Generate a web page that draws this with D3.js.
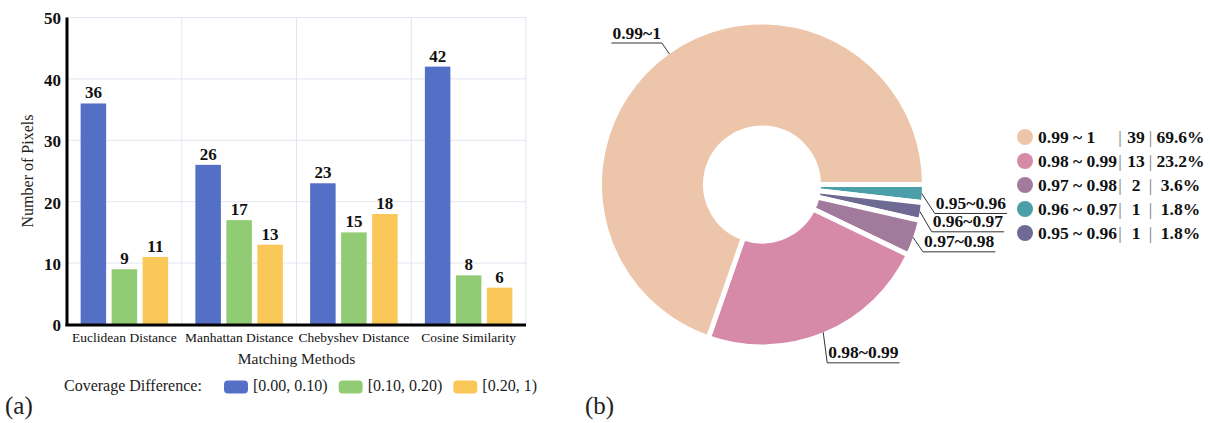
<!DOCTYPE html>
<html>
<head>
<meta charset="utf-8">
<script src="https://cdn.jsdelivr.net/npm/d3@7"></script>
<style>
  html, body { margin: 0; padding: 0; background: #fff; }
  svg { display: block; font-family: "Liberation Serif", "Times New Roman", serif; }
</style>
</head>
<body>
<svg id="fig" width="1210" height="423"></svg>
<script>
// ---- (a) pixel counts per matching method ----
const methods = ["Euclidean Distance", "Manhattan Distance", "Chebyshev Distance", "Cosine Similarity"];
const coverageBins = ["[0.00, 0.10)", "[0.10, 0.20)", "[0.20, 1)"];
const countsLow = [36, 26, 23, 42];
const countsMid = [9, 17, 15, 8];
const countsHigh = [11, 13, 18, 6];
const yTickValues = [0, 10, 20, 30, 40, 50];
const binColors = ["#5470c6", "#91cc75", "#fac858"];

// ---- (b) similarity distribution ----
const simRanges = ["0.99 ~ 1", "0.98 ~ 0.99", "0.97 ~ 0.98", "0.96 ~ 0.97", "0.95 ~ 0.96"];
const simCounts = [39, 13, 2, 1, 1];
const simLegendColors = ["#edc5aa", "#d78aa8", "#a27b9c", "#4b9fa8", "#6f6a94"];
// slices run clockwise from three o'clock
const sliceLabels = ["0.95~0.96", "0.96~0.97", "0.97~0.98", "0.98~0.99", "0.99~1"];
const sliceCounts = [1, 1, 2, 13, 39];
const sliceColors = ["#4b9fa8", "#6f6a94", "#a27b9c", "#d78aa8", "#edc5aa"];
// first leg of each leader line, relative to the slice's outer midpoint
const leaderLegs = [[13, 20], [12, 20.5], [10, 14.5], [4, 30.5], [-7.5, -11]];

const svg = d3.select("#fig");

// ================= bar chart =================
const plot = { left: 67, right: 526, top: 17.5, bottom: 324.5 };
const x0 = d3.scaleBand().domain(methods).range([plot.left, plot.right]).padding(0);
const bw = x0.bandwidth();
const x1 = d3.scaleBand().domain(coverageBins)
  .range([bw / 2 - 43.75, bw / 2 + 43.75]).paddingInner(0.177).paddingOuter(0);
const y = d3.scaleLinear().domain([0, 50]).range([plot.bottom, plot.top]);

const gBar = svg.append("g");

// grid
gBar.append("g").selectAll("line.h").data(yTickValues.filter(d => d > 0)).join("line")
  .attr("x1", plot.left).attr("x2", plot.right)
  .attr("y1", d => y(d)).attr("y2", d => y(d))
  .attr("stroke", "#e0e6f1").attr("stroke-width", 1);
gBar.append("g").selectAll("line.v").data(methods.slice(1).concat(["end"])).join("line")
  .attr("x1", d => d === "end" ? plot.right : x0(d))
  .attr("x2", d => d === "end" ? plot.right : x0(d))
  .attr("y1", plot.top).attr("y2", plot.bottom)
  .attr("stroke", "#e0e6f1").attr("stroke-width", 1);

// bars
const rows = methods.map((m, i) => ({ method: m, values: [countsLow[i], countsMid[i], countsHigh[i]] }));
const groups = gBar.append("g").selectAll("g").data(rows).join("g")
  .attr("transform", d => `translate(${x0(d.method)},0)`);
groups.selectAll("rect").data(d => d.values.map((v, j) => ({ bin: coverageBins[j], v, j }))).join("rect")
  .attr("x", d => x1(d.bin)).attr("width", x1.bandwidth())
  .attr("y", d => y(d.v)).attr("height", d => y(0) - y(d.v))
  .attr("fill", d => binColors[d.j]);
groups.selectAll("text").data(d => d.values.map((v, j) => ({ bin: coverageBins[j], v }))).join("text")
  .attr("x", d => x1(d.bin) + x1.bandwidth() / 2)
  .attr("y", d => y(d.v) - 5)
  .attr("text-anchor", "middle").attr("font-weight", "bold").attr("font-size", 17)
  .attr("fill", "#111").text(d => d.v);

// axes
const yAxis = d3.axisLeft(y).tickValues(yTickValues).tickSize(0).tickPadding(6);
const gy = gBar.append("g").attr("transform", `translate(${plot.left},0)`).call(yAxis);
gy.select(".domain").remove();
gy.selectAll("text").attr("font-family", "Liberation Serif").attr("font-size", 17)
  .attr("font-weight", "bold").attr("fill", "#111").attr("dy", "0.38em");

const xAxis = d3.axisBottom(x0).tickSize(0).tickPadding(0);
const gx = gBar.append("g").attr("transform", `translate(0,${plot.bottom})`).call(xAxis);
gx.select(".domain").remove();
gx.selectAll("text").attr("font-family", "Liberation Serif").attr("font-size", 13.5)
  .attr("fill", "#111").attr("dy", null).attr("y", 17);

gBar.append("line").attr("x1", plot.left).attr("x2", plot.left)
  .attr("y1", plot.top).attr("y2", plot.bottom + 1.5)
  .attr("stroke", "#000").attr("stroke-width", 3);
gBar.append("line").attr("x1", plot.left - 1.5).attr("x2", plot.right)
  .attr("y1", plot.bottom + 0.5).attr("y2", plot.bottom + 0.5)
  .attr("stroke", "#000").attr("stroke-width", 3);

// axis titles
gBar.append("text").attr("transform", `translate(33,${(plot.top + plot.bottom) / 2}) rotate(-90)`)
  .attr("text-anchor", "middle").attr("font-size", 16).attr("fill", "#222").text("Number of Pixels");
gBar.append("text").attr("x", (plot.left + plot.right) / 2).attr("y", 364)
  .attr("text-anchor", "middle").attr("font-size", 15.5).attr("fill", "#222").text("Matching Methods");

// legend
const legA = gBar.append("g").attr("font-size", 16).attr("fill", "#222");
legA.append("text").attr("x", 64).attr("y", 391).text("Coverage Difference:");
let lx = 224;
coverageBins.forEach((b, i) => {
  legA.append("rect").attr("x", lx).attr("y", 380.5).attr("width", 24).attr("height", 13)
    .attr("rx", 4).attr("fill", binColors[i]);
  const t = legA.append("text").attr("x", lx + 29).attr("y", 391).text(b);
  lx += 29 + t.node().getComputedTextLength() + 11;
});

svg.append("text").attr("x", 5).attr("y", 414).attr("font-size", 25).attr("fill", "#222").text("(a)");

// ================= donut chart =================
const cx = 762, cy = 184.5, rOut = 160, rIn = 59, gap = 5;
const pie = d3.pie().sort(null).value(d => d.count)
  .startAngle(Math.PI / 2).endAngle(Math.PI / 2 + 2 * Math.PI);
const sliceData = sliceLabels.map((l, i) => ({ label: l, count: sliceCounts[i], color: sliceColors[i], leg: leaderLegs[i] }));
const arcs = pie(sliceData);
const arc = d3.arc().innerRadius(rIn - gap / 2).outerRadius(rOut + gap / 2);

const gPie = svg.append("g").attr("transform", `translate(${cx},${cy})`);
gPie.selectAll("path").data(arcs).join("path")
  .attr("d", arc).attr("fill", d => d.data.color)
  .attr("stroke", "#fff").attr("stroke-width", gap).attr("stroke-linejoin", "miter");

// leader lines and slice labels
arcs.forEach(a => {
  const mid = (a.startAngle + a.endAngle) / 2;
  const px = rOut * Math.sin(mid), py = -rOut * Math.cos(mid);
  const ex = px + a.data.leg[0], ey = py + a.data.leg[1];
  const right = a.data.leg[0] >= 0;
  const t = gPie.append("text").attr("font-size", 17.5).attr("font-weight", "bold").attr("fill", "#111")
    .attr("y", ey - 4.5).text(a.data.label);
  const w = t.node().getComputedTextLength();
  t.attr("x", right ? ex + 1 : ex - 1).attr("text-anchor", right ? "start" : "end");
  const endX = right ? ex + w + 2 : ex - w - 2;
  gPie.append("polyline")
    .attr("points", `${px},${py} ${ex},${ey} ${endX},${ey}`)
    .attr("fill", "none").attr("stroke", "#333").attr("stroke-width", 1);
});

// legend with counts and shares
const total = d3.sum(simCounts);
const legB = svg.append("g").attr("font-size", 17.5).attr("font-weight", "bold").attr("fill", "#111");
simRanges.forEach((r, i) => {
  const yy = 137 + i * 24;
  legB.append("circle").attr("cx", 1025).attr("cy", yy).attr("r", 8).attr("fill", simLegendColors[i]);
  legB.append("text").attr("x", 1038).attr("y", yy + 6).text(r);
  legB.append("text").attr("x", 1120).attr("y", yy + 6).attr("text-anchor", "middle")
    .attr("font-weight", "normal").attr("fill", "#777").text("|");
  legB.append("text").attr("x", 1136).attr("y", yy + 6).attr("text-anchor", "middle").text(simCounts[i]);
  legB.append("text").attr("x", 1150.5).attr("y", yy + 6).attr("text-anchor", "middle")
    .attr("font-weight", "normal").attr("fill", "#777").text("|");
  legB.append("text").attr("x", 1180.5).attr("y", yy + 6).attr("text-anchor", "middle")
    .text((simCounts[i] / total * 100).toFixed(1) + "%");
});

svg.append("text").attr("x", 585).attr("y", 414).attr("font-size", 25).attr("fill", "#222").text("(b)");
</script>
</body>
</html>
